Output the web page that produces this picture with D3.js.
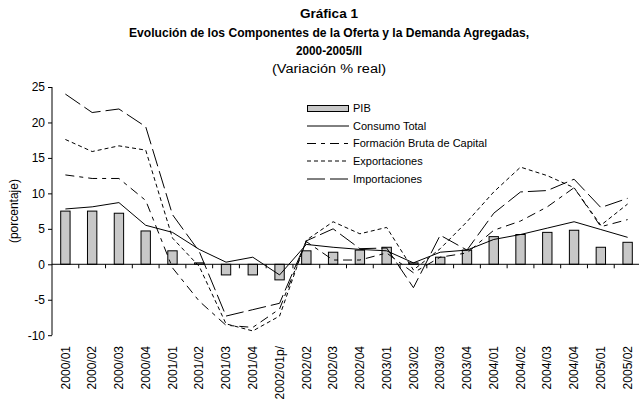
<!DOCTYPE html>
<html>
<head>
<meta charset="utf-8">
<script src="https://cdn.jsdelivr.net/npm/d3@7"></script>
<style>
  html, body { margin: 0; padding: 0; background: #fff; }
  svg { display: block; font-family: "Liberation Sans", Arial, sans-serif; }
</style>
</head>
<body>
<svg id="chart" width="639" height="402"></svg>
<script>
const categories = ["2000/01","2000/02","2000/03","2000/04","2001/01","2001/02","2001/03","2001/04","2002/01p/","2002/02","2002/03","2002/04","2003/01","2003/02","2003/03","2003/04","2004/01","2004/02","2004/03","2004/04","2005/01","2005/02"];
const pib           = [7.5, 7.5, 7.2, 4.7, 1.9, 0.2, -1.5, -1.5, -2.2, 1.9, 1.7, 2.0, 2.4, 0.2, 1.0, 2.0, 3.9, 4.2, 4.5, 4.8, 2.4, 3.1];
const consumo       = [7.8, 8.1, 8.7, 5.5, 4.5, 2.1, 0.3, 1.0, -1.5, 2.8, 2.4, 2.1, 1.9, 0.2, 1.7, 2.0, 3.5, 4.2, 5.1, 6.0, 4.9, 3.8];
const formacion     = [12.6, 12.1, 12.1, 9.0, -0.5, -5.2, -8.6, -8.9, -6.3, 3.2, 0.6, 0.6, 1.6, -1.2, 1.0, 1.6, 4.8, 6.1, 8.1, 10.8, 5.3, 6.3];
const exportaciones = [17.6, 15.9, 16.7, 16.1, 3.7, -0.3, -8.4, -9.4, -7.3, 3.4, 6.0, 4.3, 5.2, -0.8, 2.2, 6.0, 10.2, 13.7, 12.5, 10.8, 5.5, 8.5];
const importaciones = [24.0, 21.4, 21.9, 19.4, 7.0, 1.8, -7.3, -6.4, -5.5, 3.3, 5.0, 2.2, 2.3, -3.3, 4.1, 2.0, 7.2, 10.2, 10.4, 12.0, 8.0, 9.3];
const yTicks = [-10, -5, 0, 5, 10, 15, 20, 25];
const titleLines = ["Gráfica 1", "Evolución de los Componentes de la Oferta y la Demanda Agregadas,", "2000-2005/II"];
const subtitle = "(Variación % real)";
const yLabel = "(porcentaje)";
const legendNames = ["PIB", "Consumo Total", "Formación Bruta de Capital", "Exportaciones", "Importaciones"];

const svg = d3.select("#chart");
svg.append("rect").attr("width", 639).attr("height", 402).attr("fill", "#fff");

const x = d3.scaleBand().domain(categories).range([52, 641]).paddingInner(0).paddingOuter(0);
const y = d3.scaleLinear().domain([-10, 25]).range([335.2, 87]);
const bw = x.bandwidth();

// Titles
const titleY = [18, 37, 55];
const titleW = [58, 400, 66];
titleLines.forEach((t, i) => {
  svg.append("text").attr("x", 329).attr("y", titleY[i])
    .attr("text-anchor", "middle").attr("font-weight", "bold").attr("font-size", 13)
    .attr("textLength", titleW[i]).attr("lengthAdjust", "spacingAndGlyphs")
    .text(t);
});
svg.append("text").attr("x", 329).attr("y", 73).attr("text-anchor", "middle")
  .attr("font-size", 12).attr("textLength", 114).attr("lengthAdjust", "spacingAndGlyphs").text(subtitle);

// Y axis
const yAxis = svg.append("g").attr("transform", "translate(52,0)")
  .call(d3.axisLeft(y).tickValues(yTicks).tickSize(4).tickPadding(3).tickFormat((d) => String(d)));
yAxis.select(".domain").attr("stroke", "#000").attr("d", `M0,${y(25)}V${y(-10)}`);
yAxis.selectAll("text").attr("font-size", 12).attr("font-family", "Liberation Sans, Arial, sans-serif").attr("fill", "#000");
yAxis.selectAll("line").attr("stroke", "#000");

svg.append("text").attr("transform", `translate(14,${(y(25) + y(-10)) / 2}) rotate(-90)`)
  .attr("text-anchor", "middle").attr("dy", "0.35em").attr("font-size", 12).text(yLabel);

// Bars
const barW = bw * 0.35;
svg.append("g").selectAll("rect").data(categories).join("rect")
  .attr("x", (d) => x(d) + bw / 2 - barW / 2)
  .attr("y", (d, i) => y(Math.max(0, pib[i])))
  .attr("width", barW)
  .attr("height", (d, i) => Math.abs(y(pib[i]) - y(0)))
  .attr("fill", "#c8c8c8").attr("stroke", "#000").attr("stroke-width", 1);

// X axis (zero line) with ticks between categories
const boundaries = categories.map((c) => x(c)).concat([x(categories[categories.length - 1]) + bw]);
svg.append("line").attr("x1", x.range()[0]).attr("x2", x.range()[1])
  .attr("y1", y(0)).attr("y2", y(0)).attr("stroke", "#000");
svg.append("g").selectAll("line").data(boundaries.slice(1)).join("line")
  .attr("x1", (d) => d).attr("x2", (d) => d)
  .attr("y1", y(0)).attr("y2", y(0) + 4).attr("stroke", "#000");

// Category labels
svg.append("g").selectAll("text").data(categories).join("text")
  .attr("transform", (d) => `translate(${x(d) + bw / 2},346) rotate(-90)`)
  .attr("text-anchor", "end").attr("dy", "0.35em").attr("font-size", 12).text((d) => d);

// Lines
const series = [
  { vals: consumo, dash: null },
  { vals: formacion, dash: "9,5,4,5" },
  { vals: exportaciones, dash: "4,3" },
  { vals: importaciones, dash: "18,5" }
];
const line = d3.line().x((d, i) => x(categories[i]) + bw / 2).y((d) => y(d));
series.forEach((s) => {
  svg.append("path").datum(s.vals).attr("d", line)
    .attr("fill", "none").attr("stroke", "#000").attr("stroke-width", 1)
    .attr("stroke-dasharray", s.dash);
});

// Legend
const lg = svg.append("g");
const ly = [108.5, 126, 143.5, 161, 179];
lg.append("rect").attr("x", 307.5).attr("y", ly[0] - 3).attr("width", 41).attr("height", 6)
  .attr("fill", "#c8c8c8").attr("stroke", "#000");
series.forEach((s, i) => {
  lg.append("line").attr("x1", 307).attr("x2", 349).attr("y1", ly[i + 1]).attr("y2", ly[i + 1])
    .attr("stroke", "#000").attr("stroke-dasharray", s.dash);
});
legendNames.forEach((n, i) => {
  lg.append("text").attr("x", 353).attr("y", ly[i]).attr("dy", "0.35em").attr("font-size", 11).text(n);
});
</script>
</body>
</html>
